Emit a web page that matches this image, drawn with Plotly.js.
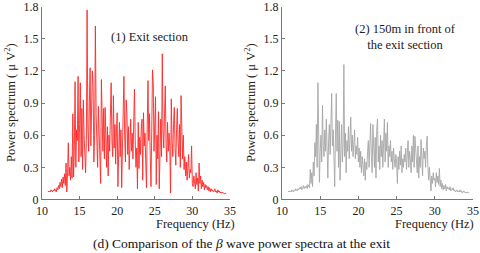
<!DOCTYPE html>
<html>
<head>
<meta charset="utf-8">
<script src="https://cdn.plot.ly/plotly-3.0.1.min.js"></script>
<style>html,body{margin:0;padding:0;background:#fff;}#chart{width:480px;height:253px;}</style>
</head>
<body>
<div id="chart"></div>
<script>
// Frequency grid (Hz): 10.8 to 34.5 in 0.1 Hz steps
const freqStart = 10.8;
const freqStep = 0.1;

// (1) Exit section power spectrum (μV²)
const exitSection = [
  0.08, 0.07,
  0.08, 0.07, 0.09, 0.08, 0.07, 0.09, 0.08, 0.10, 0.08, 0.07,
  0.11, 0.09, 0.13, 0.10, 0.16, 0.12, 0.19, 0.11, 0.21, 0.15,
  0.24, 0.13, 0.34, 0.07, 0.25, 0.53, 0.22, 0.30, 0.18, 0.40,
  0.20, 0.80, 0.21, 0.45, 1.10, 0.30, 0.65, 0.55, 1.15, 0.35,
  0.70, 1.09, 0.40, 0.85, 0.28, 0.93, 0.60, 0.48, 0.25, 0.55,
  1.77, 0.70, 0.45, 0.90, 1.23, 0.50, 0.75, 1.20, 1.07, 0.35,
  0.60, 1.62, 0.80, 0.55, 0.30, 0.87, 0.62, 0.40, 0.15, 1.12,
  0.70, 0.45, 0.85, 0.38, 0.86, 0.50, 0.30, 0.68, 0.22, 0.60,
  0.45, 0.78, 1.09, 0.55, 0.40, 0.97, 0.48, 0.70, 0.33, 0.62,
  0.81, 0.12, 0.55, 0.72, 0.40, 0.65, 0.11, 0.45, 0.78, 1.15,
  0.60, 0.35, 0.93, 0.80, 0.42, 0.68, 0.28, 0.55, 0.75, 0.45,
  0.62, 0.38, 0.70, 1.03, 0.55, 0.30, 0.48, 0.10, 0.72, 0.29,
  0.58, 0.42, 0.65, 0.75, 0.18, 0.81, 0.50, 0.62, 0.35, 0.11,
  0.70, 1.11, 0.55, 0.80, 0.40, 0.12, 0.65, 1.21, 1.09, 0.45,
  0.70, 0.96, 0.14, 0.60, 0.38, 0.82, 0.10, 0.55, 0.75, 0.40,
  1.36, 0.65, 0.48, 0.80, 1.06, 0.52, 0.35, 0.72, 0.45, 0.62,
  0.50, 0.06, 0.94, 0.55, 0.40, 0.70, 0.86, 0.48, 0.32, 0.65,
  0.85, 0.55, 0.40, 0.70, 0.30, 0.97, 0.45, 0.38, 0.60, 0.28,
  0.40, 0.22, 0.35, 0.18, 0.30, 0.42, 0.20, 0.28, 0.25, 0.50,
  0.15, 0.12, 0.22, 0.18, 0.10, 0.25, 0.14, 0.20, 0.08, 0.34,
  0.15, 0.22, 0.10, 0.18, 0.12, 0.16, 0.09, 0.14, 0.11, 0.13,
  0.09, 0.12, 0.08, 0.11, 0.07, 0.10, 0.08, 0.09, 0.07, 0.08,
  0.10, 0.07, 0.08, 0.06, 0.09, 0.07, 0.08, 0.06, 0.07, 0.06,
  0.07, 0.06, 0.06, 0.05, 0.06, 0.05
];

// (2) 150m in front of the exit section power spectrum (μV²)
const frontSection = [
  0.07, 0.08,
  0.07, 0.08, 0.07, 0.09, 0.08, 0.07, 0.09, 0.08, 0.10, 0.09,
  0.08, 0.10, 0.09, 0.11, 0.10, 0.12, 0.09, 0.11, 0.13, 0.10,
  0.12, 0.11, 0.13, 0.10, 0.14, 0.12, 0.11, 0.28, 0.15, 0.25,
  0.12, 0.35, 0.22, 0.53, 0.40, 0.70, 0.30, 1.09, 0.55, 0.16,
  0.45, 0.60, 0.35, 0.88, 0.50, 0.40, 0.65, 0.45, 0.75, 0.38,
  0.20, 0.55, 0.70, 0.42, 0.80, 0.99, 0.50, 0.65, 0.40, 0.12,
  0.60, 0.99, 0.45, 0.74, 0.30, 0.73, 0.18, 0.55, 0.70, 0.35,
  0.50, 1.26, 0.40, 0.62, 0.25, 0.55, 0.45, 0.68, 0.38, 0.58,
  0.77, 0.45, 0.60, 0.40, 0.55, 0.65, 0.38, 0.50, 0.42, 0.58,
  0.35, 0.48, 0.30, 0.45, 0.25, 0.40, 0.32, 0.22, 0.38, 0.18,
  0.35, 0.28, 0.45, 0.55, 0.30, 0.50, 0.71, 0.40, 0.25, 0.70,
  0.45, 0.30, 0.58, 0.20, 0.65, 0.75, 0.35, 0.50, 0.28, 0.60,
  0.40, 0.55, 0.30, 0.48, 0.75, 0.35, 0.62, 0.45, 0.72, 0.30,
  0.50, 0.40, 0.55, 0.35, 0.45, 0.28, 0.48, 0.38, 0.30, 0.42,
  0.35, 0.15, 0.40, 0.28, 0.45, 0.32, 0.50, 0.25, 0.38, 0.30,
  0.42, 0.35, 0.48, 0.28, 0.40, 0.55, 0.30, 0.45, 0.38, 0.25,
  0.50, 0.35, 0.60, 0.30, 0.59, 0.45, 0.40, 0.25, 0.50, 0.20,
  0.40, 0.30, 0.56, 0.35, 0.22, 0.48, 0.38, 0.45, 0.30, 0.50,
  0.59, 0.30, 0.18, 0.30, 0.20, 0.08, 0.22, 0.15, 0.25, 0.18,
  0.20, 0.12, 0.25, 0.16, 0.22, 0.14, 0.29, 0.12, 0.18, 0.10,
  0.15, 0.09, 0.13, 0.10, 0.14, 0.08, 0.12, 0.10, 0.11, 0.09,
  0.12, 0.08, 0.10, 0.09, 0.11, 0.08, 0.09, 0.07, 0.08, 0.09,
  0.07, 0.08, 0.07, 0.09, 0.07, 0.08, 0.06, 0.07, 0.08, 0.07,
  0.06, 0.07, 0.06, 0.07, 0.06, 0.06
];

const xTicks = [10, 15, 20, 25, 30, 35];
const yTicks = [0, 0.3, 0.6, 0.9, 1.2, 1.5, 1.8];
const yTickLabels = ['0', '0.3', '0.6', '0.9', '1.2', '1.5', '1.8'];

const freq = exitSection.map((_, i) => Math.round((freqStart + i * freqStep) * 10) / 10);

const FONT = 'Liberation Serif';

const traces = [
  {x: freq, y: exitSection, type: 'scatter', mode: 'lines',
   line: {color: 'rgb(255,40,40)', width: 0.9}, xaxis: 'x', yaxis: 'y', hoverinfo: 'none'},
  {x: freq, y: frontSection, type: 'scatter', mode: 'lines',
   line: {color: '#a6a6a6', width: 0.9}, xaxis: 'x2', yaxis: 'y2', hoverinfo: 'none'}
];

function xax(domain, anchor) {
  return {domain: domain, anchor: anchor, range: [10, 35], tickvals: xTicks,
    ticks: 'inside', ticklen: 3, tickcolor: '#777', showline: true, linecolor: '#777',
    linewidth: 1, showgrid: false, zeroline: false, ticklabeloverflow: 'allow',
    tickfont: {family: FONT, size: 12, color: '#222'}};
}
function yax(anchor) {
  return {domain: [0.2115, 0.9735], anchor: anchor, range: [0, 1.8], tickvals: yTicks,
    ticktext: yTickLabels, ticks: 'inside', ticklen: 3, tickcolor: '#777', showline: true,
    linecolor: '#777', linewidth: 1, showgrid: false, zeroline: false, ticklabeloverflow: 'allow',
    tickfont: {family: FONT, size: 12, color: '#222'}};
}

const txt = {family: FONT, size: 12.5, color: '#222'};
const layout = {
  width: 480, height: 253,
  margin: {l: 0, r: 0, t: 0, b: 0},
  paper_bgcolor: '#fff', plot_bgcolor: '#fff',
  showlegend: false,
  font: {family: FONT},
  xaxis: xax([0.0875, 0.479], 'y'),
  yaxis: yax('x'),
  xaxis2: xax([0.5875, 0.9854], 'y2'),
  yaxis2: yax('x2'),
  annotations: [
    {text: '(1) Exit section', xref: 'paper', yref: 'paper', x: 0.3125, y: 0.8538,
     xanchor: 'center', yanchor: 'middle', showarrow: false, font: txt},
    {text: '(2) 150m in front of<br>the exit section', xref: 'paper', yref: 'paper', x: 0.8458, y: 0.8557,
     xanchor: 'center', yanchor: 'middle', showarrow: false, font: txt},
    {text: 'Frequency (Hz)', xref: 'paper', yref: 'paper', x: 0.4938, y: 0.1146,
     xanchor: 'right', yanchor: 'middle', showarrow: false, font: txt},
    {text: 'Frequency (Hz)', xref: 'paper', yref: 'paper', x: 0.9917, y: 0.1146,
     xanchor: 'right', yanchor: 'middle', showarrow: false, font: txt},
    {text: 'Power spectrum ( μ V<sup>2</sup>)', xref: 'paper', yref: 'paper', x: 0.0208, y: 0.5968,
     xanchor: 'center', yanchor: 'middle', textangle: -90, showarrow: false, font: txt},
    {text: 'Power spectrum ( μ V<sup>2</sup>)', xref: 'paper', yref: 'paper', x: 0.5208, y: 0.5968,
     xanchor: 'center', yanchor: 'middle', textangle: -90, showarrow: false, font: txt},
    {text: '(d) Comparison of the <i>β</i> wave power spectra at the exit', xref: 'paper', yref: 'paper',
     x: 0.503, y: 0.0356, xanchor: 'center', yanchor: 'middle', showarrow: false,
     font: {family: FONT, size: 13.5, color: '#111'}}
  ]
};

Plotly.newPlot('chart', traces, layout, {staticPlot: true, displayModeBar: false});
</script>
</body>
</html>
